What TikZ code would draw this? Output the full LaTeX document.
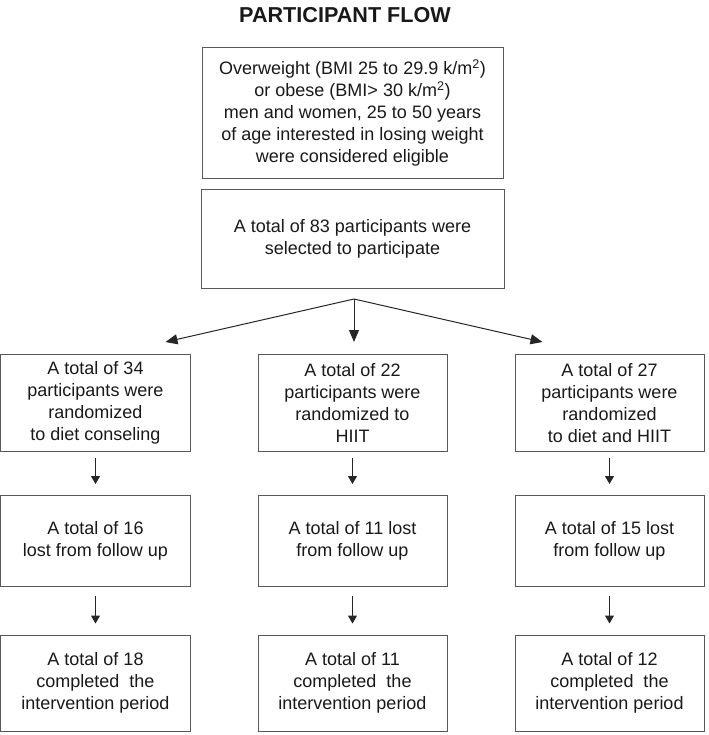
\documentclass[tikz,border=0pt]{standalone}
\usepackage{fontspec}
\setmainfont{Liberation Sans}
\usetikzlibrary{arrows.meta}

\begin{document}
\begin{tikzpicture}
		[x=1bp, y=1bp,
		parent anchor=south, child anchor=north,
		level 1/.style={level distance=126bp, edge from parent/.style={draw=none}},
		level 2/.style={level distance=164bp, sibling distance=257bp, edge from parent/.style={draw=none}},
		level 3/.style={level distance=138bp, edge from parent/.style={steparrow, shorten <=6bp, shorten >=11bp}},
		level 4/.style={level distance=142bp, edge from parent/.style={steparrow, shorten <=9bp, shorten >=11bp}},
		flowbox/.style={
			draw=black!65,
			line width=1bp,
			align=center,
			inner sep=0pt,
			text=black!90,
			font=\fontsize{18bp}{22bp}\selectfont
		},
		armbox/.style={flowbox, minimum width=189bp, minimum height=97bp},
		lostbox/.style={flowbox, minimum width=189bp, minimum height=91bp},
		donebox/.style={flowbox, minimum width=189bp, minimum height=96bp},
		steparrow/.style={draw=black!85, line width=1bp, -{Triangle[width=9bp,length=8bp]}},
		splitarrow/.style={draw=black!85, line width=1bp, -{Triangle[width=10bp,length=12bp]}}]
		\useasboundingbox (0,0) rectangle (709,-735);
		\node[anchor=base, font=\bfseries\fontsize{21.6bp}{26bp}\selectfont, text=black!90] (title) at (345,-23) {PARTICIPANT FLOW};
		\node[flowbox, minimum width=301bp, minimum height=130bp] (elig) at (352.5,-113)
		{Overweight (BMI 25 to 29.9 k/m\textsuperscript{2})\\or obese (BMI> 30 k/m\textsuperscript{2})\\men and women, 25 to 50 years\\of age interested in losing weight\\were considered eligible}
		child{
			node[flowbox, minimum width=303bp, minimum height=99bp] (sel) {A total of 83 participants were\\selected to participate}
			child{
				node[armbox] (diet) {A total of 34\\participants were\\randomized\\to diet conseling}
				child{
					node[lostbox] (dietlost) {A total of 16\\lost from follow up}
					child{
						node[donebox] (dietdone) {A total of 18\\completed\ \ the\\intervention period}
					}
				}
			}
			child{
				node[armbox] (hiit) {A total of 22\\participants were\\randomized to\\HIIT}
				child{
					node[lostbox] (hiitlost) {A total of 11 lost\\from follow up}
					child{
						node[donebox] (hiitdone) {A total of 11\\completed\ \ the\\intervention period}
					}
				}
			}
			child{
				node[armbox] (both) {A total of 27\\participants were\\randomized\\to diet and HIIT}
				child{
					node[lostbox] (bothlost) {A total of 15 lost\\from follow up}
					child{
						node[donebox] (bothdone) {A total of 12\\completed\ \ the\\intervention period}
					}
				}
			}
		};
		% split below the selection box
		\coordinate (split) at ([xshift=1.5bp, yshift=-10bp]sel.south);
		\draw[splitarrow] (split) -- ([xshift=70bp, yshift=12bp]diet.north);
		\draw[splitarrow] (split) -- ([xshift=1.5bp, yshift=12bp]hiit.north);
		\draw[splitarrow] (split) -- ([xshift=-67bp, yshift=12bp]both.north);
\end{tikzpicture}
\end{document}
